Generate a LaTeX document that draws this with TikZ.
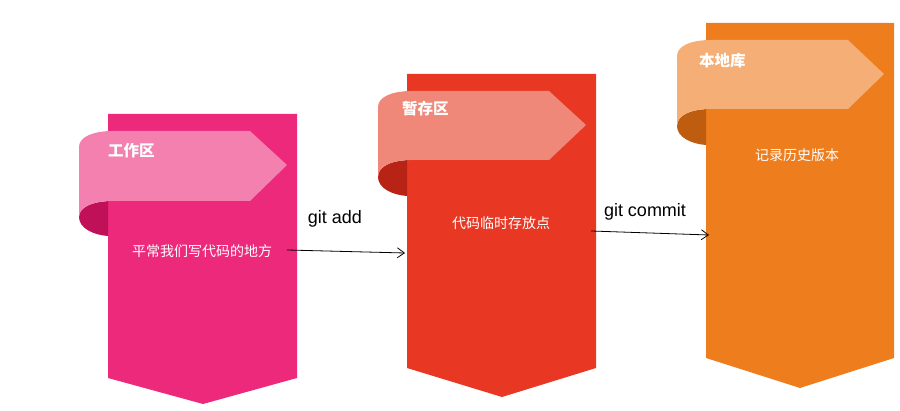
\documentclass[tikz,border=0pt]{standalone}
\usepackage{fontspec}
\setmainfont{Liberation Sans}
\newfontfamily\cjk{Noto Sans CJK SC}
\usetikzlibrary{arrows.meta}
\definecolor{pinkbox}{RGB}{236,41,123}
\definecolor{pinkband}{RGB}{244,128,176}
\definecolor{pinkfold}{RGB}{192,16,88}
\definecolor{redbox}{RGB}{232,56,36}
\definecolor{redband}{RGB}{240,136,122}
\definecolor{redfold}{RGB}{183,35,20}
\definecolor{orangebox}{RGB}{238,125,30}
\definecolor{orangeband}{RGB}{244,174,118}
\definecolor{orangefold}{RGB}{190,92,16}
\tikzset{
  title/.style={anchor=west,inner sep=0pt,text=white,font=\cjk\bfseries\fontsize{15.5}{17}\selectfont},
  body/.style={inner sep=0pt,text=white,font=\cjk\fontsize{14}{16}\selectfont},
  cmd/.style={inner sep=0pt,text=black,font=\fontsize{18}{20}\selectfont},
  flow/.style={-{Straight Barb[length=7pt,width=10pt]},line width=0.8pt}
}
\begin{document}
\begin{tikzpicture}[x=1pt,y=-1pt]
    \useasboundingbox (0,0) rectangle (900,411);
    % working area
    \fill[pinkbox] (108,114) -- (297,114) -- (297,378) -- (203,404) -- (108,378) -- cycle;
    \fill[pinkfold] (79,217) .. controls (79,228) and (93,235) .. (108,236) -- (108,201) -- (113,201) .. controls (93,201) and (79,207) .. (79,217) -- cycle;
    \fill[pinkband] (79,147) .. controls (79,137) and (93,131) .. (113,131) -- (250,131) -- (287,165) -- (250,201) -- (113,201) .. controls (93,201) and (79,207) .. (79,217) -- cycle;
    \node[title] (worktitle) at (108,151) {工作区};
    \node[body] (worktext) at (202,251) {平常我们写代码的地方};
    % staging area
    \fill[redbox] (407,74) -- (596,74) -- (596,368) -- (502,397) -- (407,368) -- cycle;
    \fill[redfold] (378,177) .. controls (378,188) and (392,195) .. (407,196) -- (407,160) -- (412,160) .. controls (392,160) and (378,166) .. (378,177) -- cycle;
    \fill[redband] (378,107) .. controls (378,97) and (392,91) .. (412,91) -- (549,91) -- (586,125) -- (549,160) -- (412,160) .. controls (392,160) and (378,166) .. (378,177) -- cycle;
    \node[title] (stagetitle) at (402,109) {暂存区};
    \node[body] (stagetext) at (501,223) {代码临时存放点};
    % local repository
    \fill[orangebox] (706,23) -- (894,23) -- (894,358) -- (800,388) -- (706,358) -- cycle;
    \fill[orangefold] (677,126) .. controls (677,137) and (691,144) .. (706,145) -- (706,109) -- (711,109) .. controls (691,109) and (677,115) .. (677,126) -- cycle;
    \fill[orangeband] (677,56) .. controls (677,46) and (691,40) .. (711,40) -- (848,40) -- (884,74) -- (848,109) -- (711,109) .. controls (691,109) and (677,115) .. (677,126) -- cycle;
    \node[title] (repotitle) at (699,61) {本地库};
    \node[body] (repotext) at (797,155) {记录历史版本};
    % commands
    \coordinate (addfrom) at (287,250);
    \coordinate (addto) at (405,253);
    \coordinate (commitfrom) at (591,231);
    \coordinate (committo) at (709,235);
    \node[cmd] (addlabel) at (335,219) {git add};
    \node[cmd] (commitlabel) at (645,212) {git commit};
    \draw[flow] (addfrom) -- (addto);
    \draw[flow] (commitfrom) -- (committo);
\end{tikzpicture}
\end{document}
